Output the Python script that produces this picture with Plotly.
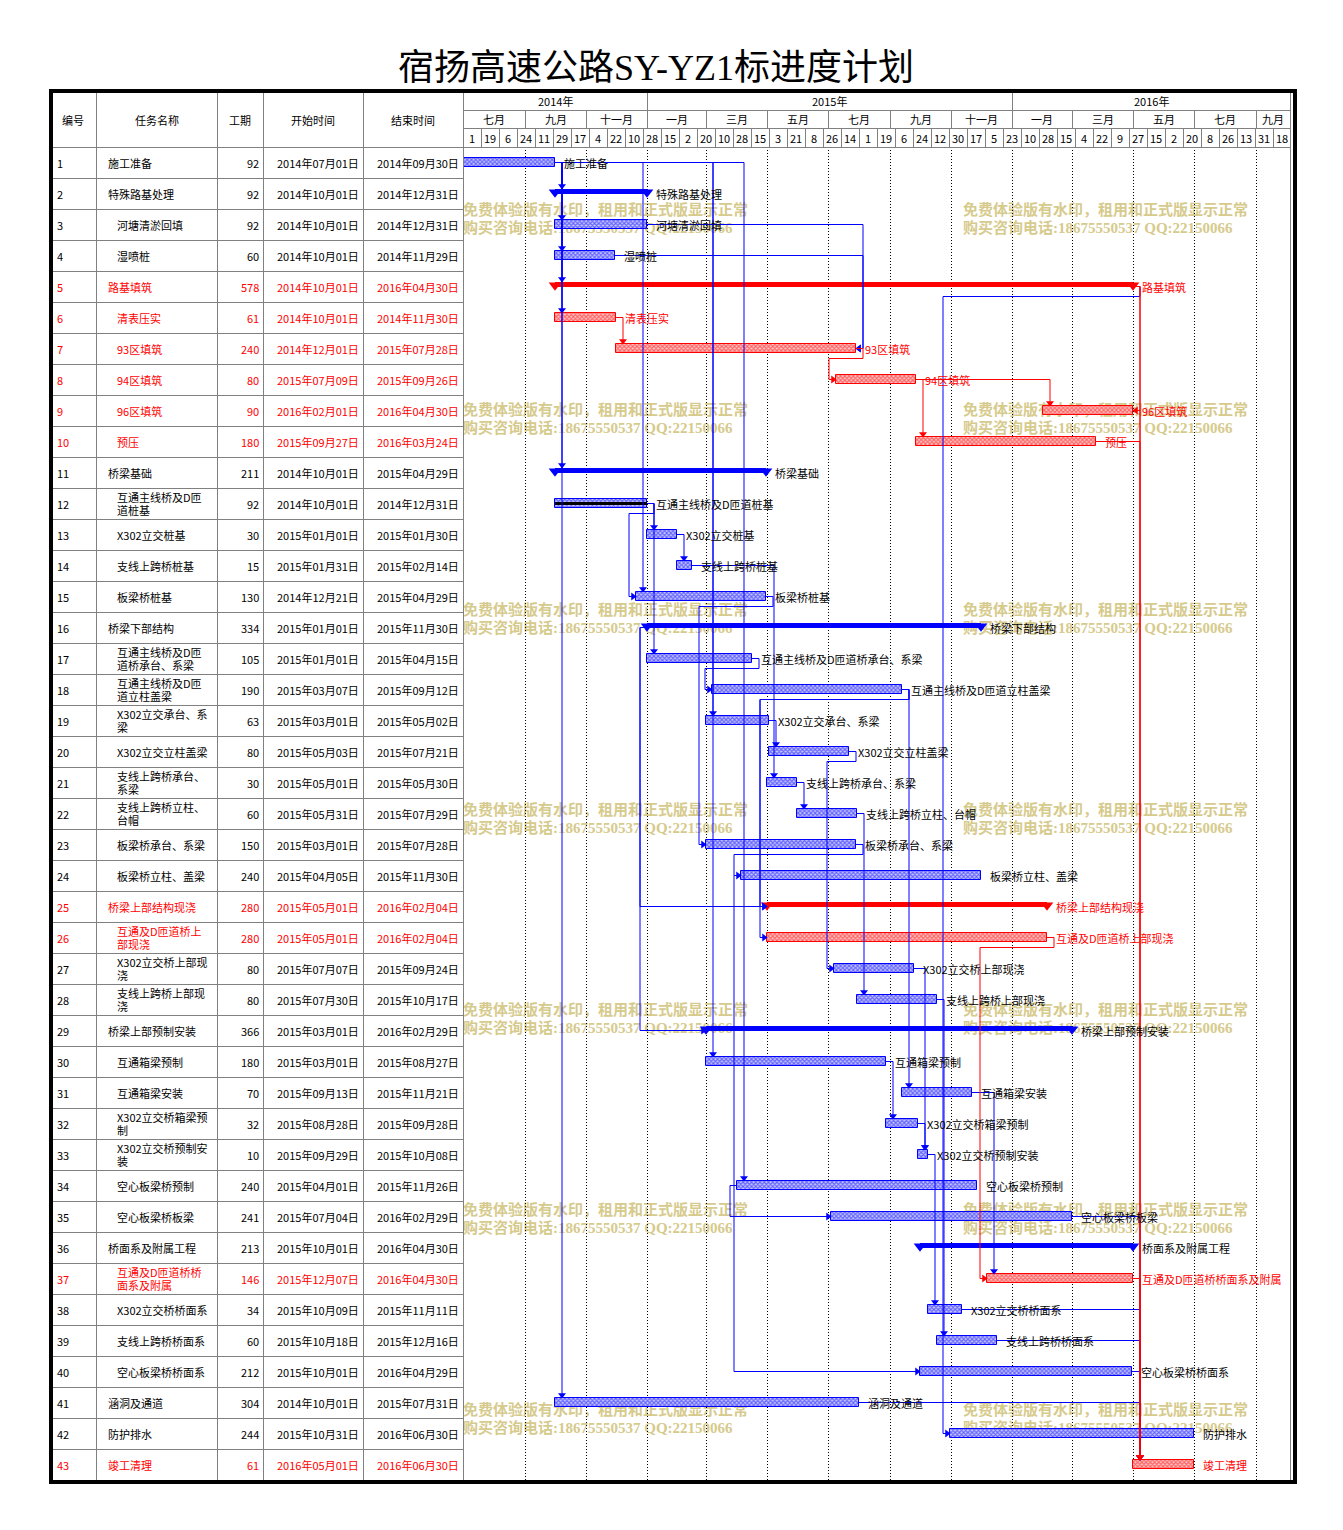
import plotly.graph_objects as go
import pandas as pd

# ---------------- data ----------------
W, H = 1343, 1530
AXIS_START = pd.Timestamp('2014-07-01')
AXIS_DAYS = 827

title_text = '宿扬高速公路SY-YZ1标进度计划'
col_headers = ['编号', '任务名称', '工期', '开始时间', '结束时间']

task_names = ['施工准备', '特殊路基处理', '河塘清淤回填', '湿喷桩', '路基填筑', '清表压实', '93区填筑', '94区填筑',
              '96区填筑', '预压', '桥梁基础', '互通主线桥及D匝道桩基', 'X302立交桩基', '支线上跨桥桩基', '板梁桥桩基',
              '桥梁下部结构', '互通主线桥及D匝道桥承台、系梁', '互通主线桥及D匝道立柱盖梁', 'X302立交承台、系梁',
              'X302立交立柱盖梁', '支线上跨桥承台、系梁', '支线上跨桥立柱、台帽', '板梁桥承台、系梁', '板梁桥立柱、盖梁',
              '桥梁上部结构现浇', '互通及D匝道桥上部现浇', 'X302立交桥上部现浇', '支线上跨桥上部现浇', '桥梁上部预制安装',
              '互通箱梁预制', '互通箱梁安装', 'X302立交桥箱梁预制', 'X302立交桥预制安装', '空心板梁桥预制', '空心板梁桥板梁',
              '桥面系及附属工程', '互通及D匝道桥桥面系及附属', 'X302立交桥桥面系', '支线上跨桥桥面系', '空心板梁桥桥面系',
              '涵洞及通道', '防护排水', '竣工清理']
outline_level = [1, 1, 2, 2, 1, 2, 2, 2, 2, 2,
                 1, 2, 2, 2, 2, 1, 2, 2, 2, 2,
                 2, 2, 2, 2, 1, 2, 2, 2, 1, 2,
                 2, 2, 2, 2, 2, 1, 2, 2, 2, 2,
                 1, 1, 1]
durations = [92, 92, 92, 60, 578, 61, 240, 80, 90, 180,
             211, 92, 30, 15, 130, 334, 105, 190, 63, 80,
             30, 60, 150, 240, 280, 280, 80, 80, 366, 180,
             70, 32, 10, 240, 241, 213, 146, 34, 60, 212,
             304, 244, 61]
start_dates = ['2014-07-01', '2014-10-01', '2014-10-01', '2014-10-01', '2014-10-01', '2014-10-01', '2014-12-01',
               '2015-07-09', '2016-02-01', '2015-09-27', '2014-10-01', '2014-10-01', '2015-01-01', '2015-01-31',
               '2014-12-21', '2015-01-01', '2015-01-01', '2015-03-07', '2015-03-01', '2015-05-03', '2015-05-01',
               '2015-05-31', '2015-03-01', '2015-04-05', '2015-05-01', '2015-05-01', '2015-07-07', '2015-07-30',
               '2015-03-01', '2015-03-01', '2015-09-13', '2015-08-28', '2015-09-29', '2015-04-01', '2015-07-04',
               '2015-10-01', '2015-12-07', '2015-10-09', '2015-10-18', '2015-10-01', '2014-10-01', '2015-10-31',
               '2016-05-01']
finish_dates = ['2014-09-30', '2014-12-31', '2014-12-31', '2014-11-29', '2016-04-30', '2014-11-30', '2015-07-28',
                '2015-09-26', '2016-04-30', '2016-03-24', '2015-04-29', '2014-12-31', '2015-01-30', '2015-02-14',
                '2015-04-29', '2015-11-30', '2015-04-15', '2015-09-12', '2015-05-02', '2015-07-21', '2015-05-30',
                '2015-07-29', '2015-07-28', '2015-11-30', '2016-02-04', '2016-02-04', '2015-09-24', '2015-10-17',
                '2016-02-29', '2015-08-27', '2015-11-21', '2015-09-28', '2015-10-08', '2015-11-26', '2016-02-29',
                '2016-04-30', '2016-04-30', '2015-11-11', '2015-12-16', '2016-04-29', '2015-07-31', '2016-06-30',
                '2016-06-30']
summary_tasks = [2, 5, 11, 16, 25, 29, 36]
critical_tasks = [5, 6, 7, 8, 9, 10, 25, 26, 37, 43]
progress_done = {12: 1.0}

links = [(1, 2, 'FS'), (1, 3, 'FS'), (1, 4, 'FS'), (1, 5, 'FS'), (1, 6, 'FS'), (1, 11, 'FS'), (1, 41, 'FS'),
         (1, 15, 'FS'), (1, 19, 'FS'), (1, 30, 'FS'), (1, 34, 'FS'),
         (3, 7, 'FF'), (4, 7, 'FF'), (6, 7, 'FS'), (7, 8, 'FS'), (8, 9, 'FS'), (8, 10, 'FS'),
         (5, 9, 'FF'), (5, 42, 'FS'), (5, 43, 'FS'), (9, 43, 'FS'), (10, 43, 'FS'),
         (12, 13, 'FS'), (12, 17, 'FS'), (12, 15, 'FS'), (13, 14, 'FS'), (14, 21, 'FS'), (15, 23, 'FS'),
         (16, 25, 'SS'), (16, 29, 'SS'),
         (17, 18, 'FS'), (18, 25, 'FS'), (18, 26, 'FS'), (18, 31, 'FS'),
         (19, 20, 'FS'), (20, 27, 'FS'), (21, 22, 'FS'), (22, 28, 'FS'), (23, 24, 'FS'), (24, 40, 'SS'),
         (26, 37, 'FS'), (27, 33, 'FS'), (28, 39, 'FS'), (30, 32, 'FS'), (31, 37, 'FS'), (32, 33, 'FS'),
         (33, 38, 'FS'), (34, 35, 'SS'), (35, 43, 'FS'), (37, 43, 'FS'), (38, 43, 'FS'), (39, 43, 'FS'),
         (40, 43, 'FS'), (41, 43, 'FS')]

year_labels = ['2014年', '2015年', '2016年']
month_labels = ['七月', '九月', '十一月', '一月', '三月', '五月', '七月', '九月', '十一月', '一月', '三月', '五月', '七月', '九月']
day_tick_labels = ['1', '19', '6', '24', '11', '29', '17', '4', '22', '10', '28', '15', '2', '20', '10', '28', '15',
                   '3', '21', '8', '26', '14', '1', '19', '6', '24', '12', '30', '17', '5', '23', '10', '28', '15',
                   '4', '22', '9', '27', '15', '2', '20', '8', '26', '13', '31', '18']
DAY_STEP = 18

wm_line1 = '免费体验版有水印，租用和正式版显示正常'
wm_line2 = '购买咨询电话:18675550537 QQ:22150066'

# ---------------- layout constants ----------------
FONT = 'Noto Sans CJK SC'
WM_FONT = 'Liberation Serif, Noto Sans CJK SC'
BLUE = '#0000ff'
RED = '#ff0000'
GRAY = '#808080'
WM = '#d6ca8c'
ROW_TOP, ROW_H, N = 147, 31, len(task_names)
GX0, GX1 = 463, 1290
FRAME_T, FRAME_B = 93, 1480


def px(x):
    return x / W


def py(y):
    return 1 - y / H


def off(d):
    return (pd.Timestamp(d) - AXIS_START).days


s_off = [off(d) for d in start_dates]
e_off = [off(d) + 1 for d in finish_dates]
O = 1.0 / ROW_H  # one pixel in row units


def is_red(t):
    return t in critical_tasks


fig = go.Figure()

# ---------------- bars ----------------
for color, tint, ids in [(BLUE, '#c8c8ff', [t for t in range(1, N + 1) if t not in summary_tasks and not is_red(t)]),
                         (RED, '#ffc8c8', [t for t in range(1, N + 1) if t not in summary_tasks and is_red(t)])]:
    fig.add_trace(go.Bar(
        orientation='h', y=ids, base=[s_off[t - 1] for t in ids],
        x=[e_off[t - 1] - s_off[t - 1] for t in ids], width=9 * O,
        marker=dict(color=tint, line=dict(color=color, width=1),
                    pattern=dict(shape='x', fgcolor=color, bgcolor=tint, size=3, solidity=0.6)),
        hoverinfo='skip', showlegend=False))

# progress line
pids = list(progress_done.keys())
fig.add_trace(go.Bar(orientation='h', y=pids, base=[s_off[t - 1] for t in pids],
                     x=[(e_off[t - 1] - s_off[t - 1]) * progress_done[t] for t in pids], width=3 * O,
                     marker=dict(color='black', line=dict(width=0)), hoverinfo='skip', showlegend=False))

# summary bars
for color, ids in [(BLUE, [t for t in summary_tasks if not is_red(t)]),
                   (RED, [t for t in summary_tasks if is_red(t)])]:
    fig.add_trace(go.Bar(orientation='h', y=[t - 2 * O for t in ids], base=[s_off[t - 1] for t in ids],
                         x=[e_off[t - 1] - s_off[t - 1] for t in ids], width=4.5 * O,
                         marker=dict(color=color, line=dict(width=0)), hoverinfo='skip', showlegend=False))
    tx, ty = [], []
    for t in ids:
        tx += [s_off[t - 1], e_off[t - 1]]
        ty += [t - 1.3 * O, t - 1.3 * O]
    fig.add_trace(go.Scatter(x=tx, y=ty, mode='markers',
                             marker=dict(symbol='triangle-down', size=11, color=color, line=dict(width=0)),
                             hoverinfo='skip', showlegend=False))

# ---------------- links ----------------
seg = {BLUE: ([], []), RED: ([], [])}
arr = {BLUE: ([], [], []), RED: ([], [], [])}
for p, s, kind in links:
    ps, pe, ss, se = s_off[p - 1], e_off[p - 1], s_off[s - 1], e_off[s - 1]
    col = RED if (is_red(p) and is_red(s)) else BLUE
    if kind == 'FS':
        if ss >= pe:
            xv = ss + 7
            pts = [(pe, p), (xv, p), (xv, s - 4.5 * O)]
            a = ('triangle-down', xv, s - 7.5 * O)
        else:
            yb = p + 10 * O
            pts = [(pe, p), (pe + 7, p), (pe + 7, yb), (ss - 7, yb), (ss - 7, s), (ss, s)]
            a = ('triangle-right', ss - 3, s)
    elif kind == 'FF':
        fx = max(pe, se) + 7
        pts = [(pe, p), (fx, p), (fx, s), (se, s)]
        a = ('triangle-left', se + 3, s)
    else:  # SS
        sx = min(ps, ss) - 7
        pts = [(ps, p), (sx, p), (sx, s), (ss, s)]
        a = ('triangle-right', ss - 3, s)
    for x, y in pts:
        seg[col][0].append(x)
        seg[col][1].append(y)
    seg[col][0].append(None)
    seg[col][1].append(None)
    arr[col][0].append(a[0])
    arr[col][1].append(a[1])
    arr[col][2].append(a[2])

for col in (BLUE, RED):
    fig.add_trace(go.Scatter(x=seg[col][0], y=seg[col][1], mode='lines', line=dict(color=col, width=1),
                             hoverinfo='skip', showlegend=False))
    fig.add_trace(go.Scatter(x=arr[col][1], y=arr[col][2], mode='markers',
                             marker=dict(symbol=arr[col][0], size=7, color=col, line=dict(width=0)),
                             hoverinfo='skip', showlegend=False))

# ---------------- shapes (table / header grid) ----------------
shapes = []


def hline(y, x0, x1, color=GRAY, width=1):
    shapes.append(dict(type='line', xref='paper', yref='paper', x0=px(x0), x1=px(x1), y0=py(y), y1=py(y),
                       line=dict(color=color, width=width), layer='above'))


def vline(x, y0, y1, color=GRAY, width=1):
    shapes.append(dict(type='line', xref='paper', yref='paper', x0=px(x), x1=px(x), y0=py(y0), y1=py(y1),
                       line=dict(color=color, width=width), layer='above'))


for x in [96.5, 217.5, 263.5, 363.5, 463.5]:
    vline(x, FRAME_T, FRAME_B)
vline(GX1 + 0.5, FRAME_T, FRAME_B)
hline(110.5, GX0, GX1)
hline(128.5, GX0, GX1)
hline(ROW_TOP + 0.5, 52, GX1)
for k in range(1, N):
    hline(ROW_TOP + k * ROW_H + 0.5, 52, GX0)

year_starts = [pd.Timestamp(f'{y}-01-01') for y in (2015, 2016)]
for ys in year_starts:
    vline(GX0 + (ys - AXIS_START).days + 0.5, FRAME_T, 110.5)

month_bounds = pd.date_range(AXIS_START, periods=len(month_labels), freq='2MS')
month_offs = [(d - AXIS_START).days for d in month_bounds]
for mo in month_offs[1:]:
    vline(GX0 + mo + 0.5, 110.5, 128.5)
day_offs = [k * DAY_STEP for k in range(len(day_tick_labels))]
for do in day_offs[1:]:
    vline(GX0 + do + 0.5, 128.5, ROW_TOP + 0.5)

# outer black frame
shapes.append(dict(type='rect', xref='paper', yref='paper', x0=px(51), x1=px(1295), y0=py(91), y1=py(1482),
                   line=dict(color='black', width=4), fillcolor='rgba(0,0,0,0)', layer='above'))

# watermark (drawn beneath the bars, above the grid)
wm_shapes = []
for k in range(7):
    for x0 in (460, 960):
        for line, yy in ((wm_line1, 208), (wm_line2, 226)):
            wm_shapes.append(dict(type='rect', xref='paper', yref='paper', x0=px(x0), x1=px(x0 + 300),
                                  y0=py(yy + 200 * k + 8), y1=py(yy + 200 * k - 8),
                                  line=dict(width=0), fillcolor='rgba(0,0,0,0)', layer='between',
                                  label=dict(text=line, textposition='middle left', padding=0,
                                             font=dict(family=WM_FONT, size=15, color=WM, weight='bold'))))

# ---------------- annotations ----------------
ann = []


def text(x, y, s, size=11, color='black', xanchor='center', xref='paper', yref='paper', family=FONT):
    ann.append(dict(x=x, y=y, xref=xref, yref=yref, text=s, showarrow=False, xanchor=xanchor, yanchor='middle',
                    font=dict(family=family, size=size, color=color), borderpad=0))


text(px(656), py(68), title_text, size=36, family='Liberation Serif, Noto Sans CJK SC')
for label, cx in zip(col_headers, [73, 157, 240, 313, 413]):
    text(px(cx), py(120), label)

year_spans = [(0, (year_starts[0] - AXIS_START).days),
              ((year_starts[0] - AXIS_START).days, (year_starts[1] - AXIS_START).days),
              ((year_starts[1] - AXIS_START).days, AXIS_DAYS)]
for label, (a, b) in zip(year_labels, year_spans):
    text(px(GX0 + (a + b) / 2), py(101.5), label)
m_ends = month_offs[1:] + [AXIS_DAYS]
for label, a, b in zip(month_labels, month_offs, m_ends):
    text(px(GX0 + (a + b) / 2), py(119.5), label)
for label, a in zip(day_tick_labels, day_offs):
    b = min(a + DAY_STEP, AXIS_DAYS)
    text(px(GX0 + (a + b) / 2), py(138), label)


def wrap(name, limit=8.0):
    lines, cur, u = [], '', 0.0
    for ch in name:
        w = 0.5 if ord(ch) < 128 else 1.0
        if u + w > limit:
            lines.append(cur)
            cur, u = '', 0.0
        cur += ch
        u += w
    lines.append(cur)
    return lines


def fmt(d):
    t = pd.Timestamp(d)
    return f'{t.year}年{t.month:02d}月{t.day:02d}日'


for i in range(N):
    r = i + 1
    c = RED if is_red(r) else 'black'
    text(px(56), r, str(r), color=c, xanchor='left', yref='y')
    nx = px(107 if outline_level[i] == 1 else 116)
    parts = wrap(task_names[i])
    if len(parts) == 1:
        text(nx, r, parts[0], color=c, xanchor='left', yref='y')
    else:
        text(nx, r - 6.5 * O, parts[0], color=c, xanchor='left', yref='y')
        text(nx, r + 6.5 * O, parts[1], color=c, xanchor='left', yref='y')
    text(px(260), r, str(durations[i]), color=c, xanchor='right', yref='y')
    text(px(360), r, fmt(start_dates[i]), color=c, xanchor='right', yref='y')
    text(px(460), r, fmt(finish_dates[i]), color=c, xanchor='right', yref='y')
    # gantt label
    text(e_off[i] + 8, r, task_names[i], color=c, xanchor='left', xref='x', yref='y')

grid_vals = month_offs[1:]
fig.update_layout(
    width=W, height=H, margin=dict(l=0, r=0, t=0, b=0),
    paper_bgcolor='white', plot_bgcolor='white', barmode='overlay', bargap=0,
    showlegend=False, shapes=wm_shapes + shapes, annotations=ann,
    font=dict(family=FONT, size=11, color='black'),
    xaxis=dict(domain=[GX0 / W, GX1 / W], range=[0, AXIS_DAYS], tickvals=grid_vals, showticklabels=False,
               ticks='', showgrid=True, gridcolor='black', gridwidth=1, griddash='1px,2px', zeroline=False,
               showline=False, fixedrange=True),
    yaxis=dict(domain=[py(FRAME_B), py(ROW_TOP)], range=[N + 0.5, 0.5], showticklabels=False, ticks='',
               showgrid=False, zeroline=False, showline=False, fixedrange=True),
)

fig.write_html('out.html', config={'displayModeBar': False},
               post_script="document.body.style.margin='0px';")
